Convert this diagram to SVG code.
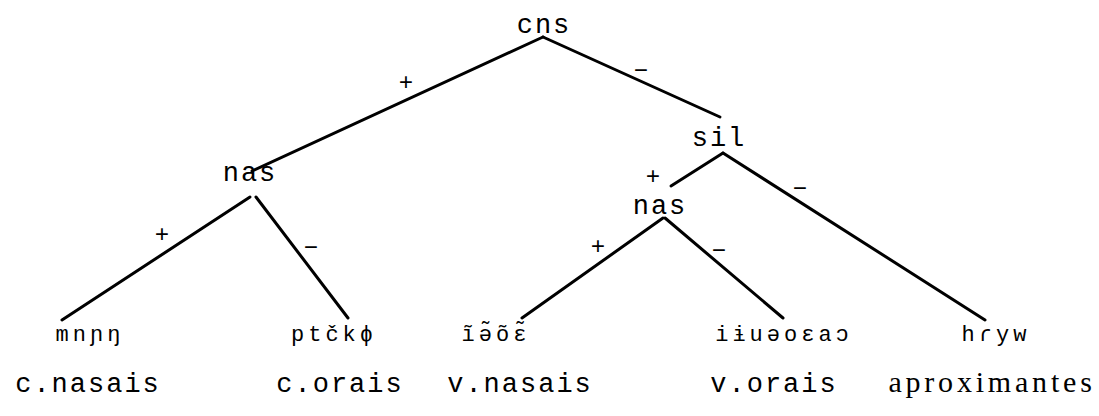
<svg xmlns="http://www.w3.org/2000/svg" width="1099" height="416" viewBox="0 0 1099 416">
  <style>
    .lbl { font-family: "Liberation Mono", "DejaVu Sans Mono", monospace; font-size: 27px; letter-spacing: 2px; fill: #000; text-anchor: middle; }
    .leaf { font-family: "Liberation Mono", "DejaVu Sans Mono", monospace; font-size: 22px; letter-spacing: 4px; fill: #000; text-anchor: middle; }
    .sign { font-family: "Liberation Mono", "DejaVu Sans Mono", monospace; font-size: 24px; fill: #000; text-anchor: middle; }
    .wide { font-family: "Liberation Serif", "DejaVu Serif", serif; font-size: 30px; letter-spacing: 3.8px; fill: #000; text-anchor: middle; }
    .edge { stroke: #000; stroke-width: 3; stroke-linecap: round; fill: none; }
  </style>
  <rect width="1099" height="416" fill="#fff"/>

  <!-- branches -->
  <g id="connectors">
    <line class="edge" x1="543" y1="37" x2="252" y2="171"/>
    <line class="edge" x1="543" y1="37" x2="720" y2="117"/>
    <line class="edge" x1="250" y1="197" x2="62" y2="320"/>
    <line class="edge" x1="256" y1="197" x2="348" y2="318"/>
    <line class="edge" x1="723" y1="153" x2="671" y2="186"/>
    <line class="edge" x1="723" y1="153" x2="985" y2="320"/>
    <line class="edge" x1="663" y1="218" x2="522" y2="318"/>
    <line class="edge" x1="665" y1="218" x2="783" y2="318"/>
  </g>

  <!-- branch signs -->
  <g id="signs">
    <text class="sign" x="406" y="90">+</text>
    <text class="sign" x="641" y="78">−</text>
    <text class="sign" x="653" y="184">+</text>
    <text class="sign" x="800" y="196">−</text>
    <text class="sign" x="162" y="242">+</text>
    <text class="sign" x="311" y="255">−</text>
    <text class="sign" x="598" y="254">+</text>
    <text class="sign" x="719" y="258">−</text>
  </g>

  <g id="node-cns"><text class="lbl" x="544" y="33">cns</text></g>
  <g id="node-sil"><text class="lbl" x="719" y="146">sil</text></g>
  <g id="node-nas-c"><text class="lbl" x="250" y="181">nas</text></g>
  <g id="node-nas-v"><text class="lbl" x="660" y="214">nas</text></g>

  <g id="leaf-c-nasais">
    <text class="leaf" x="90" y="341">mnɲŋ</text>
    <text class="lbl" x="88" y="392">c.nasais</text>
  </g>
  <g id="leaf-c-orais">
    <text class="leaf" x="334" y="341">ptčkɸ</text>
    <text class="lbl" x="340" y="392">c.orais</text>
  </g>
  <g id="leaf-v-nasais">
    <text class="leaf" x="496" y="341">ĩə̃õɛ̃</text>
    <text class="lbl" x="520" y="392">v.nasais</text>
  </g>
  <g id="leaf-v-orais">
    <text class="leaf" x="784" y="341">iɨuəoɛaɔ</text>
    <text class="lbl" x="774" y="392">v.orais</text>
  </g>
  <g id="leaf-aprox">
    <text class="leaf" x="996" y="341">hɾyw</text>
    <text class="wide" x="992" y="392">aproximantes</text>
  </g>
</svg>
